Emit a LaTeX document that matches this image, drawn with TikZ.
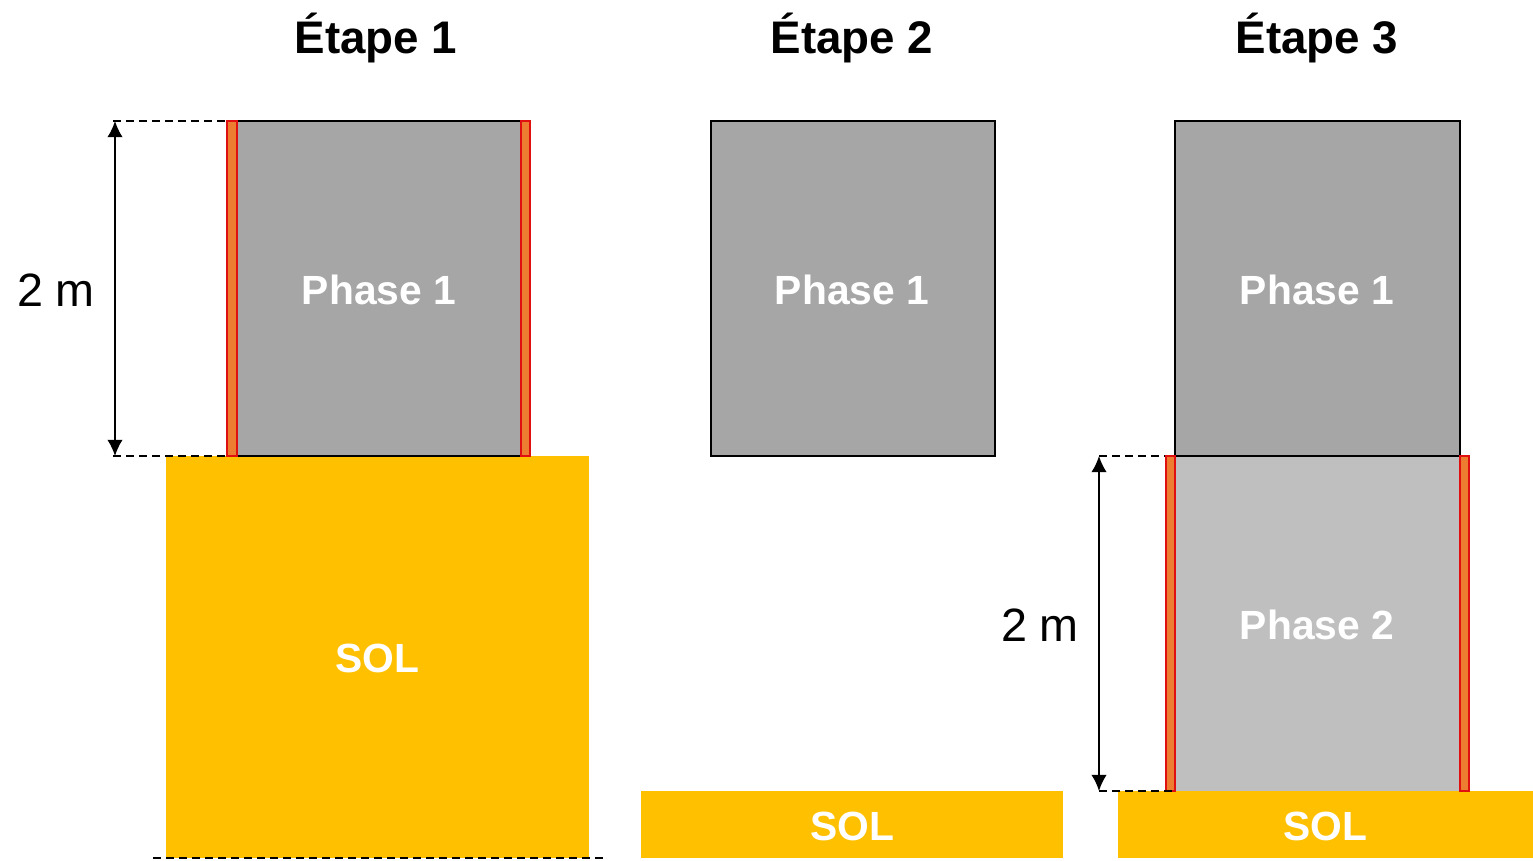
\documentclass[tikz,border=0pt]{standalone}
\usepackage{fontspec}
\setmainfont{Liberation Sans}
\usetikzlibrary{arrows.meta}
\definecolor{solcol}{HTML}{FFC000}
\definecolor{phaseun}{HTML}{A6A6A6}
\definecolor{phasedeux}{HTML}{BFBFBF}
\definecolor{paroi}{HTML}{ED7D31}
\definecolor{rougemur}{HTML}{E01010}
\tikzset{
  titre/.style={font=\fontsize{13}{15}\selectfont\bfseries},
  etiq/.style={text=white, font=\fontsize{11.6}{14}\selectfont\bfseries},
  cote/.style={font=\fontsize{13.3}{16}\selectfont},
  pointille/.style={line width=0.7pt, dash pattern=on 2.3pt off 1.4pt},
  fleche/.style={{Latex[length=4.6pt,width=4.4pt]}-{Latex[length=4.6pt,width=4.4pt]}, line width=0.5pt},
  mur/.style={fill=paroi, draw=rougemur, line width=0.8pt}
}
\begin{document}
\begin{tikzpicture}
        \useasboundingbox (0, 0) rectangle (15.33, -8.61);
        % titres
        \node[titre] (t1) at (3.76, -0.38) {Étape 1};
        \node[titre] (t2) at (8.52, -0.38) {Étape 2};
        \node[titre] (t3) at (13.17, -0.38) {Étape 3};
        % etape 1
        \fill[solcol] (1.66, -4.56) rectangle (5.89, -8.58);
        \draw[pointille] (1.53, -8.58) -- (6.03, -8.58);
        \draw[fill=phaseun, line width=0.6pt] (2.37, -1.21) rectangle (5.21, -4.56);
        \draw[mur] (2.27, -1.21) rectangle (2.37, -4.56);
        \draw[mur] (5.21, -1.21) rectangle (5.30, -4.56);
        \node[etiq] (p11) at (3.79, -2.90) {Phase 1};
        \node[etiq] (s1) at (3.77, -6.58) {SOL};
        \coordinate (h1) at (1.15, -1.21);
        \coordinate (b1) at (1.15, -4.56);
        \draw[pointille] (1.13, -1.21) -- (2.26, -1.21);
        \draw[pointille] (1.13, -4.56) -- (2.26, -4.56);
        \draw[fleche] (h1) -- (b1);
        \node[cote] (c1) at (0.56, -2.90) {2 m};
        % etape 2
        \draw[fill=phaseun, line width=0.6pt] (7.11, -1.21) rectangle (9.95, -4.56);
        \node[etiq] (p21) at (8.52, -2.90) {Phase 1};
        \fill[solcol] (6.41, -7.91) rectangle (10.63, -8.58);
        \node[etiq] (s2) at (8.52, -8.26) {SOL};
        % etape 3
        \fill[solcol] (11.18, -7.91) rectangle (15.33, -8.58);
        \node[etiq] (s3) at (13.25, -8.26) {SOL};
        \fill[phasedeux] (11.75, -4.56) rectangle (14.60, -7.91);
        \draw[fill=phaseun, line width=0.6pt] (11.75, -1.21) rectangle (14.60, -4.56);
        \draw[mur] (11.66, -4.56) rectangle (11.75, -7.91);
        \draw[mur] (14.60, -4.56) rectangle (14.69, -7.91);
        \node[etiq] (p31) at (13.17, -2.90) {Phase 1};
        \node[etiq] (p32) at (13.17, -6.25) {Phase 2};
        \coordinate (h3) at (10.99, -4.56);
        \coordinate (b3) at (10.99, -7.91);
        \draw[pointille] (10.99, -4.56) -- (11.65, -4.56);
        \draw[pointille] (10.99, -7.91) -- (11.75, -7.91);
        \draw[fleche] (h3) -- (b3);
        \node[cote] (c3) at (10.40, -6.25) {2 m};
\end{tikzpicture}
\end{document}
